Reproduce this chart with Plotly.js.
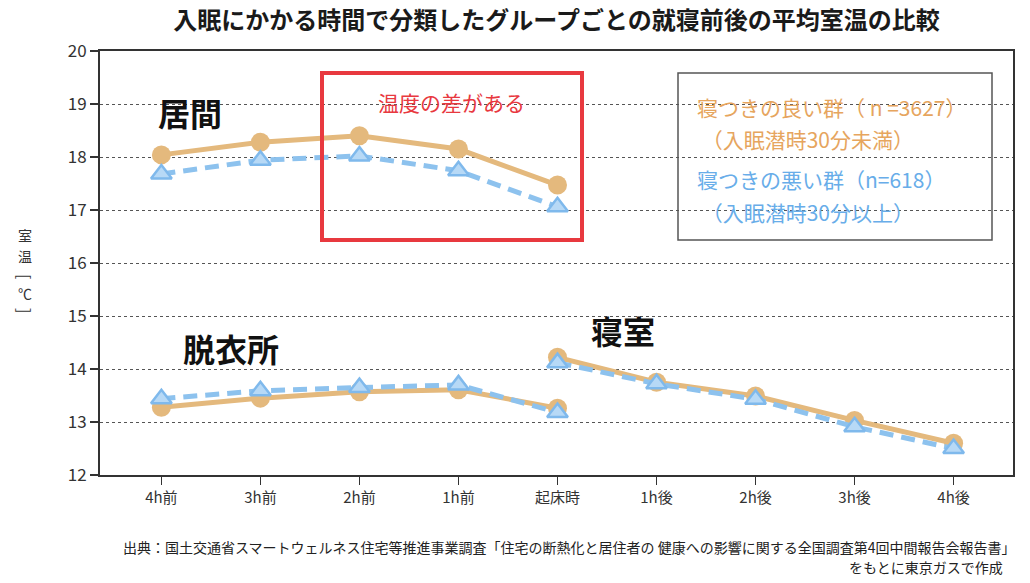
<!DOCTYPE html>
<html>
<head>
<meta charset="utf-8">
<script src="https://cdn.plot.ly/plotly-3.0.1.min.js"></script>
<style>html,body{margin:0;padding:0;background:#fff;}#chart{width:1030px;height:583px;}</style>
</head>
<body>
<div id="chart"></div>
<script>
// Categories (time relative to bedtime / wake-up)
const categories = ["4h前", "3h前", "2h前", "1h前", "起床時", "1h後", "2h後", "3h後", "4h後"];

// Living room (居間): 4h前 .. 起床時
const livingX = ["4h前", "3h前", "2h前", "1h前", "起床時"];
const livingGood = [18.04, 18.28, 18.40, 18.15, 17.47];
const livingBad  = [17.68, 17.94, 18.02, 17.74, 17.06];

// Dressing room (脱衣所): 4h前 .. 起床時
const dressX = ["4h前", "3h前", "2h前", "1h前", "起床時"];
const dressGood = [13.28, 13.45, 13.57, 13.61, 13.26];
const dressBad  = [13.44, 13.59, 13.65, 13.70, 13.18];

// Bedroom (寝室): 起床時 .. 4h後
const bedX = ["起床時", "1h後", "2h後", "3h後", "4h後"];
const bedGood = [14.22, 13.75, 13.49, 13.03, 12.60];
const bedBad  = [14.12, 13.72, 13.43, 12.91, 12.50];

const yTicks = [12, 13, 14, 15, 16, 17, 18, 19, 20];

const FONT = '"Noto Sans CJK JP", "Noto Sans", sans-serif';
const ORANGE = '#E4B97D';
const BLUE_LINE = '#8DC2EE';
const BLUE_FILL = '#B7D9F6';
const BLUE_EDGE = '#7FB9EC';

function goodTrace(x, y) {
  return {x: x, y: y, type: 'scatter', mode: 'lines+markers', showlegend: false, hoverinfo: 'skip',
    line: {color: ORANGE, width: 5}, marker: {symbol: 'circle', size: 19, color: ORANGE}};
}
function badTrace(x, y) {
  return {x: x, y: y, type: 'scatter', mode: 'lines+markers', showlegend: false, hoverinfo: 'skip',
    line: {color: BLUE_LINE, width: 5, dash: '14px,8px'},
    marker: {symbol: 'triangle-up', size: 18, color: BLUE_FILL, line: {color: BLUE_EDGE, width: 2.5}}};
}

const data = [
  goodTrace(livingX, livingGood), goodTrace(dressX, dressGood), goodTrace(bedX, bedGood),
  badTrace(livingX, livingBad), badTrace(dressX, dressBad), badTrace(bedX, bedBad)
];

function px(xpx) { return (xpx - 100) / 913; }
function py(ypx) { return (475 - ypx) / 424; }

function ann(text, xp, yp, size, color, extra) {
  return Object.assign({text: text, xref: 'paper', yref: 'paper', x: px(xp), y: py(yp),
    showarrow: false, xanchor: 'center', yanchor: 'middle',
    font: {family: FONT, size: size, color: color}}, extra || {});
}

const layout = {
  width: 1030, height: 583,
  paper_bgcolor: '#fff', plot_bgcolor: '#fff',
  margin: {l: 100, r: 17, t: 51, b: 108},
  title: {text: '<b>入眠にかかる時間で分類したグループごとの就寝前後の平均室温の比較</b>',
    font: {family: FONT, size: 24, color: '#1a1a1a'}, x: 0.5, xref: 'paper', y: 0.965, yanchor: 'middle'},
  xaxis: {type: 'category', categoryorder: 'array', categoryarray: categories,
    range: [-0.62, 8.6], showline: true, mirror: true, linecolor: '#333', linewidth: 2,
    ticks: 'outside', ticklen: 8, tickcolor: '#333', tickwidth: 1.5, showgrid: false,
    tickfont: {family: FONT, size: 15, color: '#333'}, fixedrange: true},
  yaxis: {range: [12, 20], tickvals: yTicks, showline: true, mirror: true, linecolor: '#333', linewidth: 2,
    ticks: 'outside', ticklen: 8, tickcolor: '#333', tickwidth: 1.5,
    showgrid: true, gridcolor: '#555', gridwidth: 1, griddash: 'dot', zeroline: false,
    tickfont: {family: FONT, size: 17, color: '#333'}, fixedrange: true},
  shapes: [
    {type: 'rect', xref: 'paper', yref: 'paper', x0: px(678), x1: px(992), y0: py(240), y1: py(73),
      line: {color: '#555', width: 1.5}, fillcolor: '#fff', layer: 'between'},
    {type: 'rect', xref: 'paper', yref: 'paper', x0: px(322), x1: px(582), y0: py(240), y1: py(73),
      line: {color: '#E8393F', width: 4}, fillcolor: 'rgba(0,0,0,0)', layer: 'above'}
  ],
  annotations: [
    ann('<b>居間</b>', 190, 112, 32, '#111'),
    ann('<b>脱衣所</b>', 231, 348, 32, '#111'),
    ann('<b>寝室</b>', 623, 330, 32, '#111'),
    ann('温度の差がある', 451, 102, 21, '#E8393F'),
    ann('寝つきの良い群（ n =3627）', 695, 107, 21, '#E6A55E', {xanchor: 'left'}),
    ann(' （入眠潜時30分未満）', 695, 139, 21, '#E6A55E', {xanchor: 'left'}),
    ann('寝つきの悪い群（n=618）', 695, 179, 21, '#68ADE9', {xanchor: 'left'}),
    ann(' （入眠潜時30分以上）', 695, 212, 21, '#68ADE9', {xanchor: 'left'}),
    ann('室', 25, 235, 14, '#333'),
    ann('温', 25, 256, 14, '#333'),
    ann('[', 25, 276, 16, '#333', {textangle: 90}),
    ann('℃', 25, 293, 14, '#333'),
    ann(']', 25, 310, 16, '#333', {textangle: 90}),
    ann('出典：国土交通省スマートウェルネス住宅等推進事業調査「住宅の断熱化と居住者の 健康への影響に関する全国調査第4回中間報告会報告書」',
      1017, 547, 14, '#222', {xanchor: 'right'}),
    ann('をもとに東京ガスで作成', 1005, 567, 14, '#222', {xanchor: 'right'})
  ]
};

Plotly.newPlot('chart', data, layout, {displayModeBar: false, staticPlot: true});
</script>
</body>
</html>
